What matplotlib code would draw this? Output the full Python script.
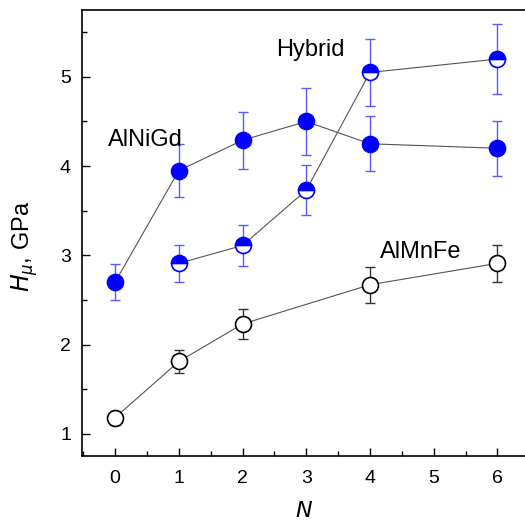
import matplotlib
matplotlib.use("Agg")
import matplotlib.pyplot as plt
from matplotlib.ticker import MultipleLocator

plt.rcParams['font.family'] = ['Liberation Sans', 'DejaVu Sans']

alnigd_x = [0, 1, 2, 3, 4, 6]
alnigd_y = [2.70, 3.95, 4.29, 4.50, 4.25, 4.20]
alnigd_err = [0.20, 0.30, 0.32, 0.38, 0.31, 0.31]

hybrid_x = [1, 2, 3, 4, 6]
hybrid_y = [2.91, 3.11, 3.73, 5.05, 5.20]
hybrid_err = [0.21, 0.23, 0.28, 0.38, 0.39]

almnfe_x = [0, 1, 2, 4, 6]
almnfe_y = [1.18, 1.81, 2.23, 2.67, 2.91]
almnfe_err = [0.08, 0.13, 0.17, 0.20, 0.21]

fig = plt.figure(figsize=(5.25, 5.24), dpi=100)
ax = fig.add_axes([82/525, 68/524, 1 - 82/525 + 0.002, (456-10)/524])

blue = '#0000ff'
ebblue = '#5a5aff'
ms = 11.5

def series(x, y, err, ecol, **mk):
    ax.errorbar(x, y, yerr=err, fmt='none', ecolor=ecol, elinewidth=1.0,
                capsize=3.4, capthick=1.0, zorder=2)
    ax.plot(x, y, '-', color='#555555', lw=0.8, zorder=3)
    ax.plot(x, y, 'o', linestyle='none', markersize=ms, zorder=4, **mk)

series(almnfe_x, almnfe_y, almnfe_err, '#333333',
       markerfacecolor='white', markeredgecolor='black', markeredgewidth=1.2)
series(hybrid_x, hybrid_y, hybrid_err, ebblue,
       markerfacecolor=blue, markerfacecoloralt='white', fillstyle='top',
       markeredgecolor=blue, markeredgewidth=1.2)
series(alnigd_x, alnigd_y, alnigd_err, ebblue,
       markerfacecolor=blue, markeredgecolor=blue, markeredgewidth=1.2)

ax.text(3.06, 5.30, 'Hybrid', fontsize=17, ha='center', va='center')
ax.text(0.47, 4.29, 'AlNiGd', fontsize=17, ha='center', va='center')
ax.text(4.80, 3.04, 'AlMnFe', fontsize=17, ha='center', va='center')

ax.set_xlim(-0.52, 6.45)
ax.set_ylim(0.75, 5.75)
ax.xaxis.set_major_locator(MultipleLocator(1))
ax.xaxis.set_minor_locator(MultipleLocator(0.5))
ax.yaxis.set_major_locator(MultipleLocator(1))
ax.yaxis.set_minor_locator(MultipleLocator(0.5))
ax.tick_params(which='both', direction='in', top=False, right=False, labelsize=14)
ax.tick_params(which='major', length=6, width=1)
ax.tick_params(which='minor', length=3.5, width=1)
ax.tick_params(axis='x', pad=10)
ax.tick_params(axis='y', pad=8)
for s in ax.spines.values():
    s.set_linewidth(1.2)

ax.set_xlabel('$N$', fontsize=16, labelpad=10)
ax.set_ylabel(r'$H_\mu$, GPa', fontsize=17)
ax.yaxis.set_label_coords(-0.095, 0.47)

fig.savefig('out.png', dpi=100)
